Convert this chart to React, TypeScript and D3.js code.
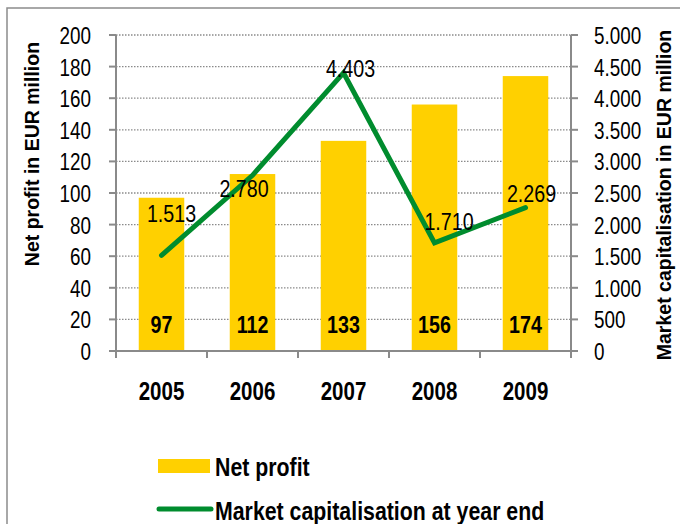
import * as d3 from 'd3'
import type { ReactNode } from 'react'

// ── Data ─────────────────────────────────────────────────────────────────────
const YEARS = ['2005', '2006', '2007', '2008', '2009']
const NET_PROFIT = [97, 112, 133, 156, 174]
const MARKET_CAP = [1513, 2780, 4403, 1710, 2269]
const LEFT_TICKS = [0, 20, 40, 60, 80, 100, 120, 140, 160, 180, 200]
const RIGHT_TICKS = [0, 500, 1000, 1500, 2000, 2500, 3000, 3500, 4000, 4500, 5000]

// label nudges for the market-cap labels (placed by hand in the original)
const CAP_LABEL_NUDGE = [
  { dx: 10, dy: -33 },
  { dx: -8.5, dy: 22 },
  { dx: 7, dy: 4.5 },
  { dx: 14.5, dy: -13 },
  { dx: 6, dy: -6 },
]

const W = 680
const H = 524
const PLOT = { left: 116, right: 571, top: 35, bottom: 351 }

const BAR_COLOR = '#FFD000'
const LINE_COLOR = '#008C2E'
const AXIS_COLOR = '#8a8a8a'
const FONT = "'Liberation Sans', Arial, sans-serif"
const SQUEEZE = 0.82 // no Arial Narrow installed -> squeeze Liberation Sans

const fmt = d3
  .formatLocale({ decimal: ',', thousands: '.', grouping: [3], currency: ['', ''] })
  .format(',')

type NProps = {
  x: number
  y: number
  size: number
  anchor?: 'start' | 'middle' | 'end'
  bold?: boolean
  children: ReactNode
}

function NText({ x, y, size, anchor = 'start', bold = false, children }: NProps) {
  return (
    <text transform={`translate(${x},${y}) scale(${SQUEEZE},1)`} textAnchor={anchor}
      fontFamily={FONT} fontWeight={bold ? 'bold' : 'normal'} fontSize={size} fill="#000">
      {children}
    </text>
  )
}

export default function App() {
  const x = d3.scaleBand<string>()
    .domain(YEARS)
    .range([PLOT.left, PLOT.right])
    .paddingInner(0.5)
    .paddingOuter(0.25)
  const yL = d3.scaleLinear().domain([0, 200]).range([PLOT.bottom, PLOT.top])
  const yR = d3.scaleLinear().domain([0, 5000]).range([PLOT.bottom, PLOT.top])

  const cx = (i: number) => (x(YEARS[i]) ?? 0) + x.bandwidth() / 2
  const step = x.step()
  const boundaries = d3.range(YEARS.length + 1).map((i) => PLOT.left + i * step)

  const line = d3.line<number>()
    .x((_, i) => cx(i))
    .y((d) => yR(d))

  return (
    <div style={{ position: 'absolute', left: 0, top: 0 }}>
      <svg width={W} height={H} style={{ display: 'block', background: '#fff' }}>
        {/* outer frame */}
        <rect x={7} y={8} width={W + 20} height={H + 20} fill="#fff" stroke="#8c8c8c" strokeWidth={1.5} />

        {/* grid lines */}
        {LEFT_TICKS.filter((t) => t > 0).map((t) => (
          <line key={t} x1={PLOT.left} x2={PLOT.right} y1={yL(t)} y2={yL(t)}
            stroke="#8a8a8a" strokeWidth={1.3} strokeDasharray="1.5,1.5" />
        ))}

        {/* bars */}
        {NET_PROFIT.map((v, i) => (
          <rect key={YEARS[i]} x={x(YEARS[i])} y={yL(v)} width={x.bandwidth()}
            height={yL(0) - yL(v)} fill={BAR_COLOR} />
        ))}

        {/* bar value labels */}
        {NET_PROFIT.map((v, i) => (
          <NText key={YEARS[i]} x={cx(i)} y={yL(0) - 18} anchor="middle" size={24} bold>{v}</NText>
        ))}

        {/* axes */}
        <line x1={PLOT.left} x2={PLOT.left} y1={PLOT.top} y2={PLOT.bottom} stroke={AXIS_COLOR} strokeWidth={2} />
        <line x1={PLOT.right} x2={PLOT.right} y1={PLOT.top} y2={PLOT.bottom} stroke={AXIS_COLOR} strokeWidth={2} />
        <line x1={PLOT.left - 7} x2={PLOT.right + 7} y1={PLOT.bottom} y2={PLOT.bottom} stroke={AXIS_COLOR} strokeWidth={2} />
        {LEFT_TICKS.map((t) => (
          <g key={t}>
            <line x1={PLOT.left - 7} x2={PLOT.left} y1={yL(t)} y2={yL(t)} stroke={AXIS_COLOR} strokeWidth={2} />
            <NText x={91} y={yL(t) + 9} anchor="end" size={23}>{t}</NText>
          </g>
        ))}
        {RIGHT_TICKS.map((t) => (
          <g key={t}>
            <line x1={PLOT.right} x2={PLOT.right + 7} y1={yR(t)} y2={yR(t)} stroke={AXIS_COLOR} strokeWidth={2} />
            <NText x={594} y={yR(t) + 9} size={23}>{fmt(t)}</NText>
          </g>
        ))}
        {boundaries.map((b, i) => (
          <line key={i} x1={b} x2={b} y1={PLOT.bottom} y2={PLOT.bottom + 7} stroke={AXIS_COLOR} strokeWidth={2} />
        ))}
        {YEARS.map((yr, i) => (
          <NText key={yr} x={cx(i)} y={400} anchor="middle" size={25} bold>{yr}</NText>
        ))}

        {/* axis titles */}
        <text transform={`translate(39,154) rotate(-90)`} textAnchor="middle" fontFamily={FONT}
          fontWeight="bold" fontSize={19.5} fill="#000">Net profit in EUR million</text>
        <text transform={`translate(671,195) rotate(-90)`} textAnchor="middle" fontFamily={FONT}
          fontWeight="bold" fontSize={19.5} fill="#000">Market capitalisation in EUR million</text>

        {/* market cap line */}
        <path d={line(MARKET_CAP) ?? ''} fill="none" stroke={LINE_COLOR} strokeWidth={5}
          strokeLinecap="round" strokeLinejoin="miter" />
        {MARKET_CAP.map((v, i) => (
          <NText key={YEARS[i]} x={cx(i) + CAP_LABEL_NUDGE[i].dx} y={yR(v) + CAP_LABEL_NUDGE[i].dy}
            anchor="middle" size={24}>{fmt(v)}</NText>
        ))}

        {/* legend */}
        <rect x={158} y={459} width={52} height={14} fill={BAR_COLOR} />
        <NText x={215} y={476} size={26} bold>Net profit</NText>
        <line x1={159} x2={211} y1={509} y2={509} stroke={LINE_COLOR} strokeWidth={5} strokeLinecap="round" />
        <NText x={215} y={520} size={26} bold>Market capitalisation at year end</NText>
      </svg>
    </div>
  )
}
